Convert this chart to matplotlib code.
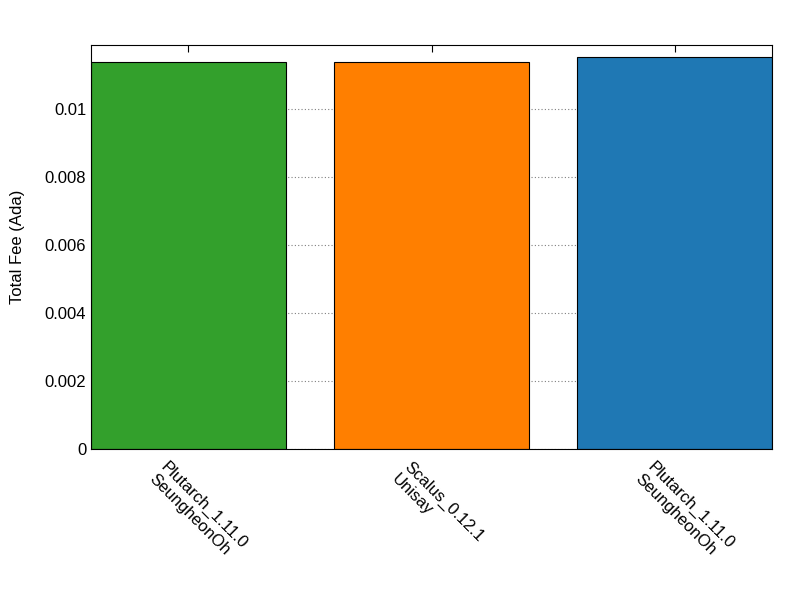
import matplotlib.pyplot as plt
import numpy as np

plt.rcParams['font.family'] = ['Liberation Sans', 'DejaVu Sans']

labels = ['Plutarch_1.11.0\nSeungheonOh', 'Scalus_0.12.1\nUnisay', 'Plutarch_1.11.0\nSeungheonOh']
fees = [0.01138, 0.01138, 0.01153]
colors = ['#33a02c', '#ff7f00', '#1f78b4']

fig = plt.figure(figsize=(8, 6), dpi=100)
ax = fig.add_axes([0.11375, 0.2517, 0.85125, 0.6733])

x = np.arange(len(labels))
ax.bar(x, fees, width=0.8, color=colors, edgecolor='black', linewidth=0.8, zorder=2)

ax.set_xlim(-0.4, 2.4)
ax.set_ylim(0, 0.01188)
ax.set_yticks([0, 0.002, 0.004, 0.006, 0.008, 0.01])
ax.set_yticklabels(['0', '0.002', '0.004', '0.006', '0.008', '0.01'], fontsize=12)
ax.yaxis.grid(True, linestyle=(0, (1, 2)), color='#808080', linewidth=0.8, zorder=0)
ax.set_axisbelow(True)

ax.set_xticks(x)
ax.set_xticklabels([])
for xi, lab in zip(x, labels):
    ax.text(xi - 0.08, -0.0003, lab, rotation=-45, ha='left', va='top',
            rotation_mode='anchor', fontsize=12, transform=ax.transData)
ax.tick_params(axis='x', direction='in', top=True, length=5)
ax.tick_params(axis='y', direction='in', length=0)

ax.set_ylabel('Total Fee (Ada)', fontsize=12, labelpad=14)

fig.savefig('out.png')
